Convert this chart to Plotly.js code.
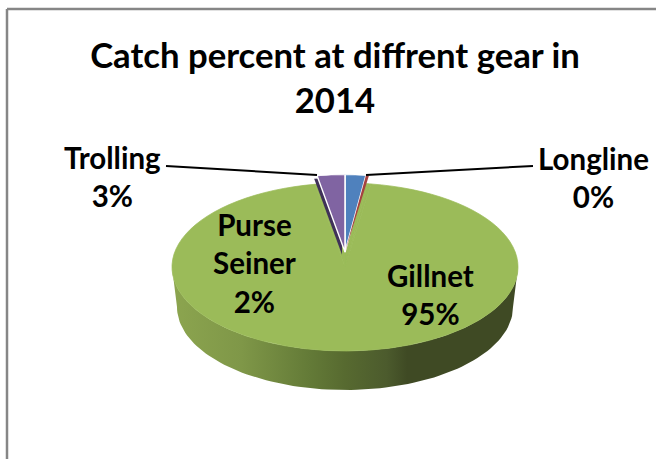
<!DOCTYPE html>
<html>
<head>
<meta charset="utf-8">
<script src="https://cdn.plot.ly/plotly-3.0.1.min.js"></script>
<style>html,body{margin:0;padding:0;background:#fff}#chart{width:656px;height:459px}</style>
</head>
<body>
<div id="chart"></div>
<script>
var categories = ["Purse Seiner", "Longline", "Gillnet", "Trolling"];
var catchPercent = [2.1, 0.3, 94.8, 2.8];
var sliceColors = ["#4f81bd", "#a5413f", "#9bbb59", "#8064a2"];
var percentLabels = ["2%", "0%", "95%", "3%"];
var titleText = "Catch percent at diffrent gear in<br>2014";

var W = 656, H = 459;
var clear = "rgba(0,0,0,0)";
var green = sliceColors[2];
var flatten = 0.4855;   // tilt of the disc
var pivotY = 267;       // y that the tilt leaves fixed

function dom(cx, cy, R) {
  return {x: [(cx - R) / W, (cx + R) / W], y: [1 - (cy + R) / H, 1 - (cy - R) / H]};
}
function pie(domain, colors, widths, lineColor) {
  return {
    type: "pie", values: catchPercent, labels: categories, sort: false,
    direction: "clockwise", rotation: 0, textinfo: "none", hoverinfo: "label+percent",
    showlegend: false, domain: domain,
    marker: {colors: colors, line: {color: lineColor, width: widths}}
  };
}

// side wall of the disc, front half only
function wallOutline() {
  var xs = [], ys = [], i, t;
  for (i = 0; i <= 90; i++) { t = Math.PI * i / 90; xs.push(345 - 173 * Math.cos(t)); ys.push(267 + 84 * Math.sin(t)); }
  for (i = 90; i >= 0; i--) { t = Math.PI * i / 90; xs.push(345 - 168 * Math.cos(t)); ys.push(307 + 83 * Math.sin(t)); }
  return {x: xs, y: ys};
}
var outline = wallOutline();
var wall = {
  type: "scatter", mode: "lines", x: outline.x, y: outline.y, fill: "toself",
  line: {width: 0}, hoverinfo: "skip", showlegend: false,
  fillcolor: "#5e7233",
  fillgradient: {
    type: "horizontal", start: 172, stop: 518,
    colorscale: [[0, "#8ca54f"], [0.2, "#7f9748"], [0.4, "#637a37"], [0.5, "#576a30"],
                 [0.62, "#4c5b2d"], [0.68, "#3f4a24"], [1, "#3f4a24"]]
  }
};

var disc = pie(dom(345, 267, 173), [green, green, green, green], [1, 1, 1, 1], green);
var wedgeSide = pie(dom(342, 242, 159), [clear, clear, clear, "#3f3158"], [0, 0, 0, 0], "#ffffff");
var wedges = pie(dom(345, 236, 159), [sliceColors[0], sliceColors[1], clear, sliceColors[3]], [1.5, 0, 0, 1.5], "#ffffff");

var labelFont = {family: "Lato, Carlito, sans-serif", size: 29.5, color: "#000000", weight: 700};
function label(x, y, text) {
  return {x: x, y: y, xref: "x", yref: "y", text: text, showarrow: false, font: labelFont,
          align: "center", xanchor: "center", yanchor: "middle"};
}
function leader(x0, y0, x1, y1) {
  return {type: "line", xref: "x", yref: "y", x0: x0, y0: y0, x1: x1, y1: y1, layer: "above",
          line: {color: "#000000", width: 2}};
}
function frame(x0, y0, x1, y1) {
  return {type: "line", xref: "x", yref: "y", x0: x0, y0: y0, x1: x1, y1: y1, layer: "below",
          line: {color: "#868686", width: 2.5}};
}

var layout = {
  width: W, height: H, margin: {l: 0, r: 0, t: 0, b: 0},
  paper_bgcolor: "#ffffff", plot_bgcolor: "#ffffff", showlegend: false,
  title: {text: titleText, x: 335 / W, xanchor: "center", y: 1 - 77 / H, yanchor: "middle",
          font: {family: "Lato, Carlito, sans-serif", size: 34.7, color: "#000000", weight: 700}},
  xaxis: {range: [0, W], visible: false, fixedrange: true},
  yaxis: {range: [H, 0], visible: false, fixedrange: true},
  annotations: [
    label(112, 176, categories[3] + "<br>" + percentLabels[3]),
    label(593, 177, categories[1] + "<br>" + percentLabels[1]),
    label(254, 263, "Purse<br>Seiner<br>" + percentLabels[0]),
    label(430, 294, categories[2] + "<br>" + percentLabels[2])
  ],
  shapes: [
    frame(7, 9, W, 9), frame(7, 9, 7, H),
    leader(166, 166, 317, 175), leader(533, 166, 366, 175)
  ]
};

Plotly.newPlot("chart", [wall, disc, wedgeSide, wedges], layout, {displayModeBar: false, staticPlot: true})
  .then(function (gd) {
    var layer = gd.querySelector(".pielayer");
    layer.setAttribute("transform",
      "translate(0," + pivotY + ") scale(1," + flatten + ") translate(0," + (-pivotY) + ")");
    var title = gd.querySelector(".gtitle");
    if (title) title.setAttribute("transform", "translate(0,-9)");
  });
</script>
</body>
</html>
